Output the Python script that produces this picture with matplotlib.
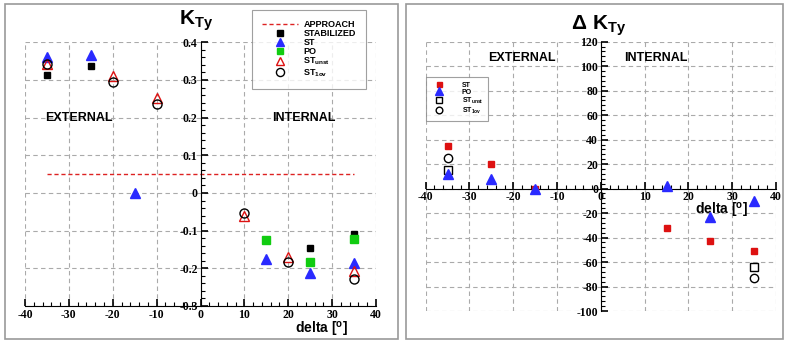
import matplotlib
matplotlib.use('Agg')
import matplotlib.pyplot as plt
from matplotlib.patches import Rectangle
from matplotlib.ticker import MultipleLocator, AutoMinorLocator

plt.rcParams['font.family'] = ['Liberation Sans', 'DejaVu Sans']
plt.rcParams['mathtext.fontset'] = 'custom'
plt.rcParams['mathtext.rm'] = 'Liberation Sans:bold'
plt.rcParams['mathtext.bf'] = 'Liberation Sans:bold'
plt.rcParams['mathtext.it'] = 'Liberation Sans:bold'

# ---- left panel: K_Ty ----
approach_x = [-35, 35]
approach_y = [0.05, 0.05]
stab_x = [-35, -25, 25, 35]
stab_y = [0.312, 0.338, -0.147, -0.108]
st_x = [-35, -25, -15, 15, 25, 35]
st_y = [0.362, 0.366, 0.0, -0.176, -0.212, -0.186]
po_x = [15, 25, 35]
po_y = [-0.126, -0.183, -0.123]
unst_x = [-35, -20, -10, 10, 20, 35]
unst_y = [0.342, 0.31, 0.252, -0.061, -0.17, -0.207]
ov_x = [-35, -20, -10, 10, 20, 35]
ov_y = [0.343, 0.295, 0.237, -0.053, -0.182, -0.229]

# ---- right panel: delta K_Ty ----
d_st_x = [-35, -25, -15, 15, 25, 35]
d_st_y = [35, 20, 0, -32, -43, -51]
d_po_x = [-35, -25, -15, 15, 25, 35]
d_po_y = [12, 8, 0, 2, -23, -10]
d_unst_x = [-35, 35]
d_unst_y = [15, -64]
d_ov_x = [-35, 35]
d_ov_y = [25, -73]

W, H = 786, 343
fig = plt.figure(figsize=(W / 100, H / 100), dpi=100)


def px_axes(x0, x1, ytop, ybot):
    return fig.add_axes([x0 / W, 1 - ybot / H, (x1 - x0) / W, (ybot - ytop) / H])


for (fx0, fx1) in [(5, 398), (406, 783)]:
    fig.patches.append(Rectangle((fx0 / W, 4 / H), (fx1 - fx0) / W, (H - 8) / H,
                                 transform=fig.transFigure, fill=False,
                                 edgecolor='#999999', linewidth=1.2))

tick_font = {'family': 'Liberation Serif', 'weight': 'bold', 'size': 8.5}


def style(ax, xmajor, ymajor, yminor, xspine_pos):
    ax.spines['top'].set_visible(False)
    ax.spines['right'].set_visible(False)
    ax.spines['left'].set_position(('data', 0))
    if xspine_pos is not None:
        ax.spines['bottom'].set_position(('data', xspine_pos))
    ax.xaxis.set_major_locator(MultipleLocator(xmajor))
    ax.xaxis.set_minor_locator(AutoMinorLocator(5))
    ax.yaxis.set_major_locator(MultipleLocator(ymajor))
    ax.yaxis.set_minor_locator(AutoMinorLocator(yminor))
    ax.tick_params(which='major', direction='in', length=5, width=1.2, pad=2)
    ax.tick_params(which='minor', direction='in', length=3, width=0.8)
    ax.grid(True, which='major', linestyle=(0, (4, 3)), color='#aaaaaa', linewidth=0.8)
    ax.set_axisbelow(True)


# left axes
ax1 = px_axes(25, 376, 42.3, 306)
ax1.set_xlim(-40, 40)
ax1.set_ylim(-0.3, 0.4)
ax1.plot(approach_x, approach_y, color='#dd2222', linestyle=(0, (3, 2)), linewidth=1.0, label='APPROACH')
ax1.plot(stab_x, stab_y, 's', color='black', ms=5, linestyle='none', label='STABILIZED')
ax1.plot(st_x, st_y, '^', color='#2a2aff', ms=6.5, linestyle='none', label='ST')
ax1.plot(po_x, po_y, 's', color='#11cc11', ms=5.5, linestyle='none', label='PO')
ax1.plot(unst_x, unst_y, '^', mfc='none', mec='#dd1111', ms=6.5, mew=1.0, linestyle='none',
         label=r'ST$_{\mathrm{unst}}$')
ax1.plot(ov_x, ov_y, 'o', mfc='none', mec='black', ms=6.5, mew=1.0, linestyle='none',
         label=r'ST$_{\mathrm{1ov}}$')
style(ax1, 10, 0.1, 5, None)
ax1.set_yticklabels([f'{v:g}' for v in ax1.get_yticks()], fontdict=tick_font)
ax1.set_xticklabels([f'{v:g}' for v in ax1.get_xticks()], fontdict=tick_font)
ax1.text(-27.8, 0.2, 'EXTERNAL', fontsize=9, fontweight='bold', ha='center', va='center')
ax1.text(23.5, 0.2, 'INTERNAL', fontsize=9, fontweight='bold', ha='center', va='center')
ax1.text(27.5, -0.362, 'delta [$^{\\mathrm{o}}$]', fontsize=10, fontweight='bold', ha='center', va='center',
         clip_on=False)
ax1.text(-1, 0.458, r'$\mathbf{K_{Ty}}$', fontsize=15, ha='center', va='center', clip_on=False)
leg1 = ax1.legend(loc='upper left', bbox_to_anchor=((252 - 25) / 351, (42.3 - 10) / 263.7 + 1),
                  prop={'weight': 'bold', 'size': 6.5}, frameon=True, fancybox=False,
                  edgecolor='#888888', handlelength=4.0, handletextpad=0.6,
                  labelspacing=0.0, borderpad=1.1, borderaxespad=0, markerscale=0.9)
leg1.get_frame().set_linewidth(0.8)

# right axes
ax2 = px_axes(425.7, 776, 41.7, 311)
ax2.set_xlim(-40, 40)
ax2.set_ylim(-100, 120)
ax2.plot(d_st_x, d_st_y, 's', color='#dd1111', ms=4.5, linestyle='none', label='ST', zorder=3)
ax2.plot(d_po_x, d_po_y, '^', color='#2a2aff', ms=6.5, linestyle='none', label='PO', zorder=4)
ax2.plot(d_unst_x, d_unst_y, 's', mfc='none', mec='black', ms=5.5, mew=1.0, linestyle='none',
         label=r'ST$_{\mathrm{unst}}$', zorder=3)
ax2.plot(d_ov_x, d_ov_y, 'o', mfc='none', mec='black', ms=6, mew=1.0, linestyle='none',
         label=r'ST$_{\mathrm{1ov}}$', zorder=3)
style(ax2, 10, 20, 5, 0)
ax2.set_yticklabels([f'{v:g}' for v in ax2.get_yticks()], fontdict=tick_font)
ax2.set_xticklabels([f'{v:g}' for v in ax2.get_xticks()], fontdict=tick_font)
ax2.text(-18, 107, 'EXTERNAL', fontsize=9, fontweight='bold', ha='center', va='center')
ax2.text(12.5, 107, 'INTERNAL', fontsize=9, fontweight='bold', ha='center', va='center')
ax2.text(27.5, -17.5, 'delta [$^{\\mathrm{o}}$]', fontsize=10, fontweight='bold', ha='center', va='center')
ax2.text(-0.5, 133, r'$\Delta\ \mathbf{K_{Ty}}$', fontsize=15, ha='center', va='center', clip_on=False)
leg2 = ax2.legend(loc='upper left', bbox_to_anchor=(0.0, (76.7 - 41.7) / -269.3 + 1),
                  prop={'weight': 'bold', 'size': 5}, frameon=True, fancybox=False,
                  edgecolor='#888888', handlelength=2.5, handletextpad=2.0,
                  labelspacing=0.0, borderpad=0.7, borderaxespad=0, markerscale=0.8)
leg2.get_frame().set_linewidth(0.8)

fig.savefig('out.png', dpi=100)
